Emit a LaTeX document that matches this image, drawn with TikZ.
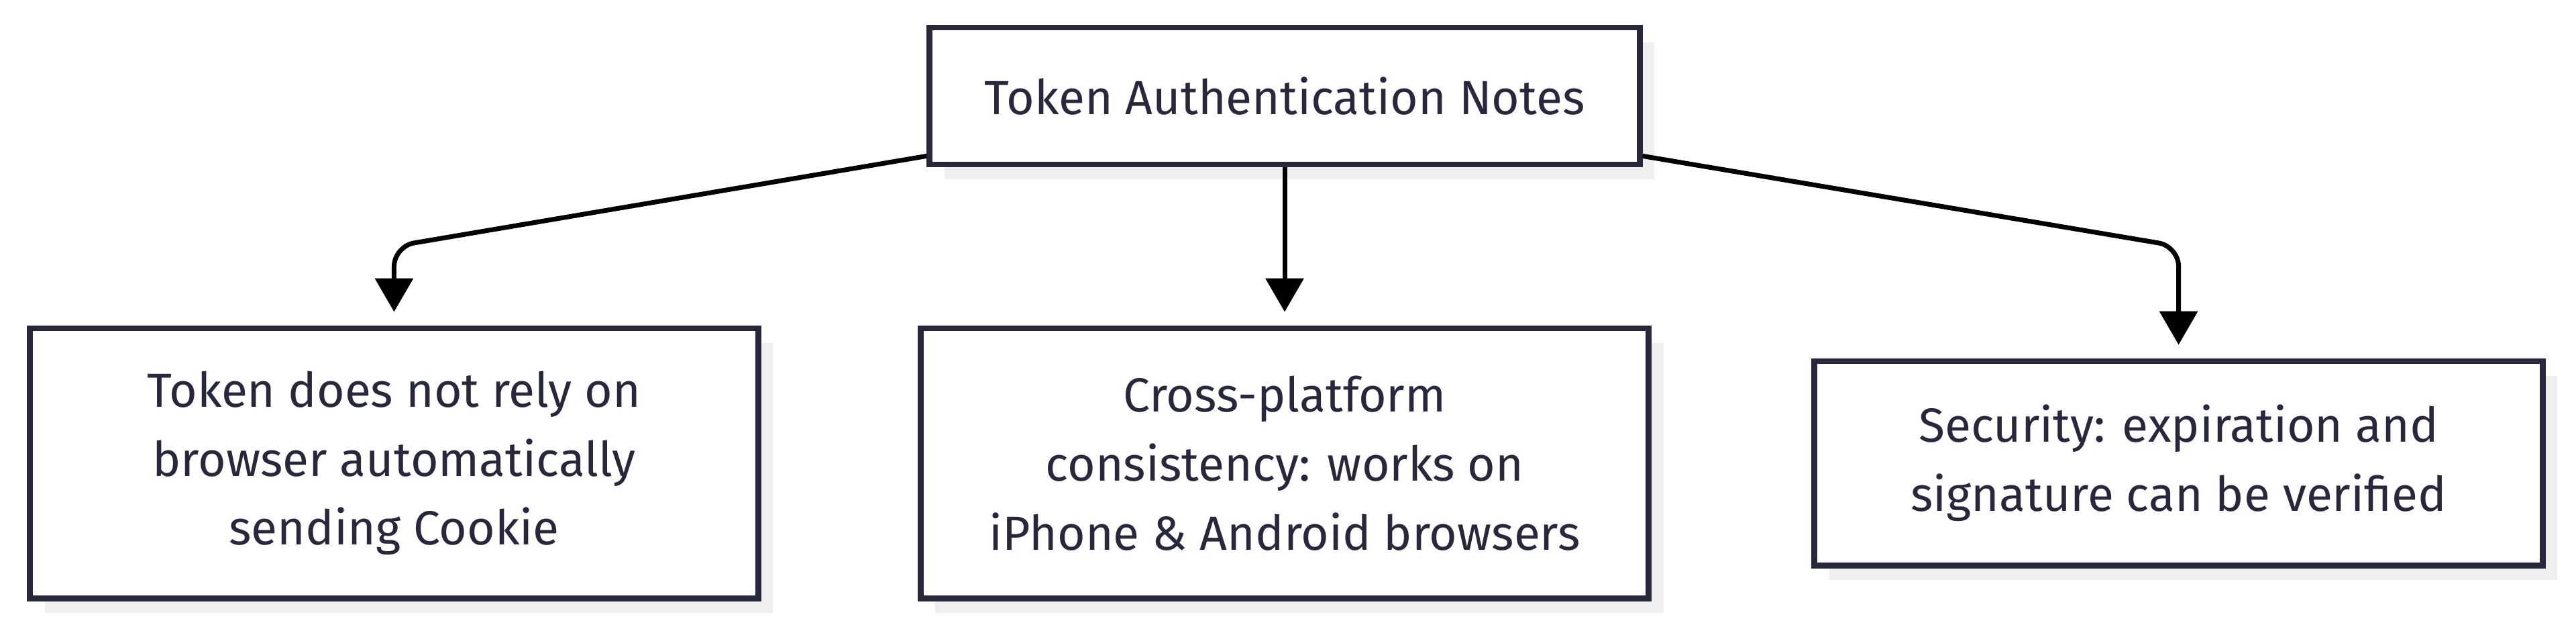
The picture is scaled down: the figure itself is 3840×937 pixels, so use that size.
\documentclass[tikz,border=0pt]{standalone}
\usepackage{fontspec}
\setmainfont{Fira Sans}
\usetikzlibrary{arrows.meta,positioning,shadows}
\definecolor{ink}{HTML}{28283C}
\definecolor{shade}{HTML}{EFEFEF}

\begin{document}
\begin{tikzpicture}[
				x=0.01cm, y=0.01cm,
				node distance={2.35cm},
				note/.style = {draw=ink, line width=2.5pt, fill=white, text=ink, align=center,
					minimum width=10.85cm, font=\fontsize{20.3pt}{29.2pt}\selectfont,
					drop shadow={shadow xshift=0.22cm, shadow yshift=-0.22cm, fill=shade, opacity=1}},
				arrow/.style={line width=2pt, -{Triangle[length=5mm, width=5.6mm]}, shorten >=2mm, rounded corners=3mm}
				]
				\useasboundingbox (0,0) rectangle (3840,937);
				
				\node[note, minimum width=10.58cm, minimum height=2.04cm] (notes) at (1915,794) {Token Authentication Notes};
				\node[note, minimum height=4.02cm] (cross) [below=of notes] {Cross-platform\\consistency: works on\\iPhone \& Android browsers};
				\node[note, minimum height=4.02cm] (cookie) [left=2.33cm of cross] {Token does not rely on\\browser automatically\\sending Cookie};
				\node[note, minimum height=3.04cm] (secure) [right=2.38cm of cross] {Security: expiration and\\signature can be verified};
				
				\coordinate (lbend) at (585,570);
				\coordinate (rbend) at (3246,570);
				
				\draw[arrow] ([yshift=1.7mm]notes.south west) -- (cookie.north |- lbend) -- (cookie.north);
				\draw[arrow] (notes) -- (cross);
				\draw[arrow] ([yshift=1.7mm]notes.south east) -- (secure.north |- rbend) -- (secure.north);
			\end{tikzpicture}
\end{document}
